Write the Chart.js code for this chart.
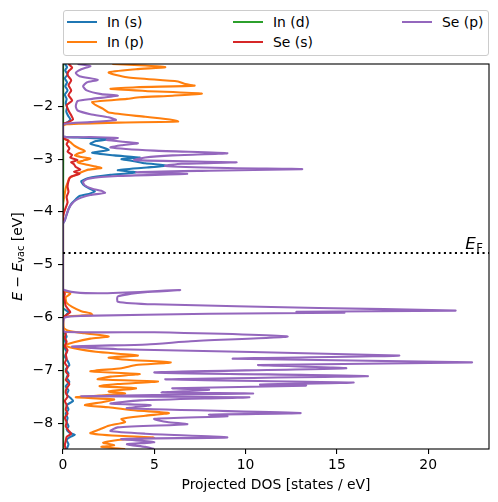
<!DOCTYPE html>
<html>
<head>
<meta charset="utf-8">
<script src="https://cdn.jsdelivr.net/npm/chart.js@4.4.1/dist/chart.umd.min.js"></script>
<style>
  html, body { margin: 0; padding: 0; background: #ffffff; }
  #wrap { position: relative; width: 498px; height: 502px; }
  #c { position: absolute; left: 0; top: 0; }
  #legend { position: absolute; left: 63px; top: 10px; width: 426px; height: 46px; box-sizing: border-box;
            border: 1px solid #cccccc; border-radius: 3px; background: #ffffff;
            font-family: "DejaVu Sans"; font-size: 13.9px; color: #000; }
  .item { position: absolute; height: 16px; line-height: 16px; white-space: nowrap; }
  .item .sw { position: absolute; left: 0; top: 7px; width: 30px; height: 2px; }
  .item .tx { position: absolute; left: 40px; top: 0; }
</style>
</head>
<body>
<div id="wrap">
  <canvas id="c" width="498" height="502"></canvas>
  <div id="legend"></div>
</div>
<script>
// ---------------- data ----------------
const seriesLabels = ['In (s)', 'In (p)', 'In (d)', 'Se (s)', 'Se (p)'];
const seriesColors = ['#1f77b4', '#ff7f0e', '#2ca02c', '#d62728', '#9467bd'];
const xTicks = [0, 5, 10, 15, 20];
const yTicks = [-8, -7, -6, -5, -4, -3, -2];
const xRange = [0, 23.33];
const yRange = [-8.49, -1.2];
const fermiLevel = -4.78;
const xTitle = 'Projected DOS [states / eV]';

// [energy (eV), projected DOS (states/eV)]
const inS = [
  [-1.20,0.10],[-1.26,0.22],[-1.32,0.12],[-1.40,0.25],[-1.47,0.10],[-1.55,0.22],[-1.62,0.12],[-1.70,0.25],
  [-1.78,0.10],[-1.86,0.20],[-1.94,0.15],[-2.02,0.22],[-2.10,0.18],[-2.18,0.28],[-2.25,0.40],[-2.29,0.30],
  [-2.33,0.10],[-2.36,0.00],
  [-2.57,0.00],[-2.59,0.80],[-2.62,2.60],[-2.66,1.80],[-2.71,1.50],[-2.76,2.00],[-2.83,2.50],[-2.88,1.60],
  [-2.93,2.80],[-2.97,4.20],[-3.00,3.20],[-3.04,3.90],[-3.08,4.50],[-3.12,5.70],[-3.16,4.60],[-3.21,3.00],
  [-3.25,4.00],[-3.30,2.60],[-3.36,1.40],[-3.42,1.00],[-3.48,1.10],[-3.55,1.40],[-3.61,1.75],[-3.65,1.50],
  [-3.70,0.90],[-3.76,0.70],[-3.85,0.45],[-3.95,0.30],[-4.05,0.20],[-4.16,0.10],[-4.23,0.00],
  [-5.82,0.00],[-5.86,0.15],[-5.90,0.30],[-5.94,0.20],[-5.98,0.10],[-6.02,0.00],[-6.24,0.00],[-6.30,0.10],
  [-6.36,0.20],[-6.42,0.10],[-6.50,0.15],[-6.58,0.10],[-6.66,0.20],[-6.74,0.10],[-6.82,0.25],[-6.90,0.35],
  [-6.98,0.15],[-7.06,0.30],[-7.14,0.20],[-7.22,0.35],[-7.30,0.15],[-7.38,0.30],[-7.46,0.20],[-7.52,0.40],
  [-7.58,0.55],[-7.66,0.20],[-7.74,0.30],[-7.82,0.15],[-7.90,0.25],[-7.98,0.20],[-8.06,0.30],[-8.12,0.20],
  [-8.18,0.35],[-8.22,0.65],[-8.26,0.40],[-8.32,0.20],[-8.40,0.30],[-8.49,0.20]
];

const inP = [
  [-1.20,2.7],[-1.23,4.5],[-1.26,5.6],[-1.30,4.0],[-1.36,2.5],[-1.45,3.5],[-1.53,6.3],[-1.58,6.7],
  [-1.61,7.2],[-1.64,4.0],[-1.67,2.6],[-1.71,4.5],[-1.76,7.6],[-1.80,6.0],[-1.83,4.2],[-1.86,3.5],
  [-1.92,1.6],[-1.98,1.8],[-2.05,2.2],[-2.12,2.5],[-2.20,4.5],[-2.26,6.0],[-2.29,6.3],[-2.31,3.0],
  [-2.34,0.2],[-2.37,0.0],
  [-2.60,0.0],[-2.63,0.15],[-2.68,0.4],[-2.74,0.6],[-2.80,0.9],[-2.85,1.2],[-2.90,0.8],[-2.93,0.66],
  [-2.96,1.0],[-2.99,1.5],[-3.03,1.1],[-3.06,0.8],[-3.10,1.2],[-3.14,1.8],[-3.17,2.1],[-3.20,1.4],
  [-3.25,1.0],[-3.30,0.7],[-3.36,0.35],[-3.45,0.25],[-3.55,0.15],[-3.65,0.1],[-3.75,0.05],[-3.85,0.0],
  [-5.50,0.0],[-5.52,0.3],[-5.55,0.4],[-5.62,0.15],[-5.72,0.2],[-5.80,0.5],[-5.88,1.0],[-5.92,1.5],
  [-5.95,1.6],[-5.97,0.5],[-6.00,0.05],[-6.20,0.05],[-6.25,0.3],[-6.30,1.2],[-6.36,2.5],[-6.40,1.5],
  [-6.47,0.6],[-6.53,0.1],[-6.58,0.6],[-6.65,1.8],[-6.72,4.1],[-6.76,2.5],[-6.80,3.5],[-6.85,5.9],
  [-6.90,4.0],[-6.96,3.2],[-7.02,1.5],[-7.07,4.2],[-7.12,2.6],[-7.17,1.9],[-7.21,5.2],[-7.26,3.0],
  [-7.30,2.0],[-7.34,4.0],[-7.40,2.5],[-7.44,3.4],[-7.48,2.0],[-7.51,0.7],[-7.55,2.8],[-7.60,2.2],
  [-7.66,1.2],[-7.70,2.5],[-7.76,4.0],[-7.81,5.8],[-7.86,4.5],[-7.92,3.2],[-7.98,3.4],[-8.05,2.5],
  [-8.12,2.0],[-8.19,1.5],[-8.24,3.0],[-8.27,5.0],[-8.32,3.0],[-8.37,2.2],[-8.42,2.8],[-8.45,2.1],
  [-8.49,3.4]
];

const inD = [
  [-1.20,0.005],[-1.80,0.008],[-2.33,0.005],[-2.36,0.00],[-2.58,0.00],[-3.00,0.01],[-3.60,0.005],[-4.20,0.00],
  [-5.47,0.00],[-5.90,0.005],[-6.00,0.00],[-6.24,0.00],[-7.00,0.008],[-7.80,0.01],[-8.49,0.008]
];

const seS = [
  [-1.20,0.30],[-1.27,0.50],[-1.34,0.30],[-1.41,0.25],[-1.51,0.45],[-1.60,0.30],[-1.70,0.45],[-1.79,0.30],
  [-1.89,0.50],[-1.98,0.20],[-2.08,0.30],[-2.17,0.45],[-2.25,0.55],[-2.30,0.30],[-2.34,0.00],
  [-2.60,0.00],[-2.65,0.30],[-2.72,0.20],[-2.80,0.35],[-2.86,0.25],[-2.92,0.50],[-2.97,0.40],[-3.02,0.80],
  [-3.06,0.45],[-3.10,0.60],[-3.15,0.70],[-3.20,0.95],[-3.24,0.60],[-3.28,0.90],[-3.34,0.40],[-3.42,0.30],
  [-3.52,0.25],[-3.62,0.30],[-3.72,0.20],[-3.82,0.25],[-3.92,0.15],[-4.02,0.05],[-4.12,0.00],
  [-5.50,0.00],[-5.55,0.10],[-5.62,0.05],[-5.70,0.10],[-5.78,0.15],[-5.85,0.30],[-5.90,0.40],[-5.95,0.20],
  [-6.00,0.00],[-6.24,0.00],[-6.30,0.15],[-6.38,0.10],[-6.46,0.20],[-6.54,0.10],[-6.62,0.25],[-6.70,0.15],
  [-6.78,0.20],[-6.86,0.10],[-6.94,0.25],[-7.02,0.15],[-7.10,0.30],[-7.18,0.15],[-7.26,0.35],[-7.34,0.20],
  [-7.42,0.15],[-7.50,0.25],[-7.58,0.10],[-7.66,0.20],[-7.74,0.15],[-7.82,0.25],[-7.90,0.10],[-7.98,0.20],
  [-8.06,0.15],[-8.14,0.30],[-8.20,0.45],[-8.26,0.20],[-8.34,0.15],[-8.42,0.10],[-8.49,0.15]
];

const seP = [
  [-1.20,0.8],[-1.24,1.5],[-1.30,1.0],[-1.37,0.7],[-1.43,0.9],[-1.50,1.9],[-1.55,1.3],[-1.62,1.1],
  [-1.70,1.3],[-1.77,2.1],[-1.80,3.0],[-1.86,1.6],[-1.90,0.8],[-2.00,0.7],[-2.08,0.8],[-2.15,1.5],
  [-2.21,2.5],[-2.26,2.9],[-2.30,1.5],[-2.33,0.1],[-2.36,0.0],
  [-2.57,0.0],[-2.585,1.5],[-2.60,3.0],[-2.64,2.4],[-2.70,4.1],[-2.74,3.2],[-2.78,2.6],[-2.84,5.0],
  [-2.89,9.0],[-2.93,6.0],[-2.97,4.5],[-3.02,3.9],[-3.06,9.5],[-3.09,6.5],[-3.13,5.6],[-3.17,9.0],
  [-3.19,13.1],[-3.22,8.0],[-3.25,4.0],[-3.28,6.8],[-3.32,3.0],[-3.37,1.4],[-3.43,1.1],[-3.50,1.2],
  [-3.56,1.6],[-3.60,2.1],[-3.64,2.3],[-3.68,1.5],[-3.73,1.0],[-3.78,0.7],[-3.86,0.45],[-3.95,0.3],
  [-4.05,0.2],[-4.16,0.1],[-4.23,0.0],
  [-5.47,0.0],[-5.48,6.4],[-5.52,4.5],[-5.60,3.0],[-5.70,3.0],[-5.75,5.0],[-5.82,14.0],[-5.87,21.5],
  [-5.89,12.8],[-5.91,15.4],[-5.93,8.0],[-5.97,1.0],[-6.00,0.1],[-6.15,0.0],[-6.27,0.05],[-6.28,5.0],
  [-6.36,12.3],[-6.45,7.0],[-6.51,4.6],[-6.55,0.5],[-6.60,3.0],[-6.72,18.4],[-6.78,9.3],[-6.85,22.4],
  [-6.90,10.7],[-6.96,15.5],[-7.04,5.0],[-7.11,16.7],[-7.17,5.6],[-7.23,15.9],[-7.27,10.8],[-7.29,13.3],
  [-7.34,6.0],[-7.37,8.0],[-7.42,5.4],[-7.44,10.4],[-7.49,1.0],[-7.51,10.2],[-7.57,4.2],[-7.63,2.6],
  [-7.66,4.8],[-7.72,3.5],[-7.81,13.0],[-7.84,8.0],[-7.87,9.0],[-7.92,5.0],[-7.98,5.7],[-8.02,6.8],
  [-8.08,3.0],[-8.15,2.6],[-8.20,4.5],[-8.27,9.0],[-8.30,3.2],[-8.36,5.0],[-8.40,3.5],[-8.45,4.5],
  [-8.49,5.0]
];

const seriesData = [inS, inP, inD, seS, seP];

// ---------------- legend (HTML, matplotlib-like 3 columns, column-major) ----------------
const legendCols = [3, 169, 338];
const legendRows = [2.7, 23];
const legendEl = document.getElementById('legend');
seriesLabels.forEach((lab, i) => {
  const col = Math.floor(i / 2), row = i % 2;
  const it = document.createElement('div');
  it.className = 'item';
  it.style.left = legendCols[col] + 'px';
  it.style.top = legendRows[row] + 'px';
  it.innerHTML = '<span class="sw" style="background:' + seriesColors[i] + '"></span><span class="tx"></span>';
  it.querySelector('.tx').textContent = lab;
  legendEl.appendChild(it);
});

// ---------------- chart ----------------
Chart.defaults.font.family = '"DejaVu Sans"';
Chart.defaults.font.size = 13.9;
Chart.defaults.color = '#000000';

const fmtMinus = v => (v < 0 ? '\u2212' + Math.abs(v) : String(v));

const decor = {
  id: 'decor',
  afterDatasetsDraw(chart) {
    const { ctx, chartArea: a, scales: { y } } = chart;
    ctx.save();
    // Fermi level
    const yF = y.getPixelForValue(fermiLevel);
    ctx.strokeStyle = '#000';
    ctx.lineWidth = 2.08;
    ctx.setLineDash([2.08, 3.44]);
    ctx.beginPath();
    ctx.moveTo(a.left, yF);
    ctx.lineTo(a.right, yF);
    ctx.stroke();
    ctx.setLineDash([]);
    // spines
    ctx.lineWidth = 1.1;
    ctx.strokeRect(a.left, a.top, a.right - a.left, a.bottom - a.top);
    // E_F label
    ctx.fillStyle = '#000';
    ctx.textBaseline = 'alphabetic';
    ctx.textAlign = 'left';
    const fBig = 'italic 16.7px "DejaVu Sans"';
    const fSub = '11.7px "DejaVu Sans"';
    ctx.font = fBig; const wE = ctx.measureText('E').width;
    ctx.font = fSub; const wF = ctx.measureText('F').width;
    const xr = a.right - 6;
    const base = yF - 4;
    const x0 = xr - wE - wF - 0.5;
    ctx.font = fBig; ctx.fillText('E', x0, base);
    ctx.font = fSub; ctx.fillText('F', x0 + wE + 0.5, base + 2.5);
    ctx.restore();
  },
  afterDraw(chart) {
    const { ctx, chartArea: a } = chart;
    // y axis title: E − E_vac [eV]
    const pieces = [
      { t: 'E', f: 'italic 13.9px "DejaVu Sans"', dy: 0 },
      { t: ' \u2212 ', f: '13.9px "DejaVu Sans"', dy: 0 },
      { t: 'E', f: 'italic 13.9px "DejaVu Sans"', dy: 0 },
      { t: 'vac', f: '9.7px "DejaVu Sans"', dy: 2.9 },
      { t: ' [eV]', f: '13.9px "DejaVu Sans"', dy: 0 }
    ];
    ctx.save();
    let total = 0;
    pieces.forEach(p => { ctx.font = p.f; p.w = ctx.measureText(p.t).width; total += p.w; });
    const cy = (a.top + a.bottom) / 2;
    ctx.translate(21.5, cy);
    ctx.rotate(-Math.PI / 2);
    ctx.fillStyle = '#000';
    ctx.textBaseline = 'alphabetic';
    ctx.textAlign = 'left';
    let x = -total / 2;
    pieces.forEach(p => { ctx.font = p.f; ctx.fillText(p.t, x, p.dy); x += p.w; });
    ctx.restore();
  }
};

new Chart(document.getElementById('c'), {
  type: 'scatter',
  data: {
    datasets: seriesData.map((d, i) => ({
      label: seriesLabels[i],
      data: d.map(p => ({ x: p[1], y: p[0] })),
      borderColor: seriesColors[i],
      backgroundColor: seriesColors[i],
      borderWidth: 2.08,
      pointRadius: 0,
      pointHoverRadius: 0,
      showLine: true,
      fill: false,
      tension: 0.2,
      order: seriesData.length - i
    }))
  },
  options: {
    responsive: false,
    animation: false,
    devicePixelRatio: 1,
    events: [],
    layout: { padding: { top: 64, right: 9, bottom: 0, left: 0 } },
    plugins: { legend: { display: false }, tooltip: { enabled: false } },
    scales: {
      x: {
        type: 'linear', position: 'bottom',
        min: xRange[0], max: xRange[1],
        afterBuildTicks: s => { s.ticks = xTicks.map(v => ({ value: v })); },
        afterFit: s => { s.height = 53; },
        ticks: { callback: v => fmtMinus(v), padding: 3, maxRotation: 0, font: { size: 13.9 } },
        grid: { display: true, drawOnChartArea: false, drawTicks: true, tickLength: 5, color: '#000', lineWidth: 1.1 },
        border: { display: false },
        title: { display: true, text: xTitle, font: { size: 13.9 }, padding: { top: 2, bottom: 8 } }
      },
      y: {
        type: 'linear', position: 'left',
        min: yRange[0], max: yRange[1],
        afterBuildTicks: s => { s.ticks = yTicks.map(v => ({ value: v })); },
        afterFit: s => { s.width = 63; },
        ticks: { callback: v => fmtMinus(v), padding: 5, font: { size: 13.9 } },
        grid: { display: true, drawOnChartArea: false, drawTicks: true, tickLength: 5, color: '#000', lineWidth: 1.1 },
        border: { display: false }
      }
    }
  },
  plugins: [decor]
});
</script>
</body>
</html>
